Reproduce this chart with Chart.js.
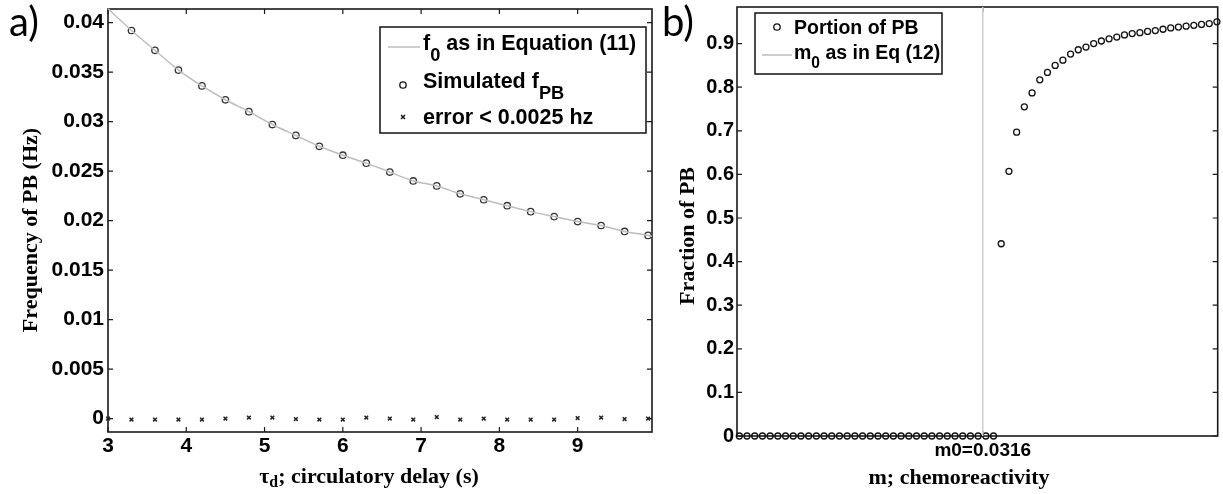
<!DOCTYPE html>
<html>
<head>
<meta charset="utf-8">
<script src="https://cdn.jsdelivr.net/npm/chart.js@4.4.1/dist/chart.umd.min.js"></script>
<style>
  html, body { margin: 0; padding: 0; background: #fff; }
  #wrap { position: relative; width: 1223px; height: 494px; overflow: hidden; }
  #chartA { position: absolute; left: 0; top: 0; }
  #chartB { position: absolute; left: 660px; top: 0; }
</style>
</head>
<body>
<div id="wrap">
  <canvas id="chartA" width="660" height="494"></canvas>
  <canvas id="chartB" width="563" height="494"></canvas>
</div>
<script>
// ---- panel a: frequency of PB vs circulatory delay ----
const tauSim = [3.3, 3.6, 3.9, 4.2, 4.5, 4.8, 5.1, 5.4, 5.7, 6.0, 6.3, 6.6, 6.9, 7.2, 7.5, 7.8, 8.1, 8.4, 8.7, 9.0, 9.3, 9.6, 9.9];
const fSim = [0.0392, 0.0372, 0.0352, 0.0336, 0.0322, 0.0310, 0.0297, 0.0286, 0.0275, 0.0266, 0.0258, 0.0249, 0.0240, 0.0235, 0.0227, 0.0221, 0.0215, 0.0209, 0.0204, 0.0199, 0.0195, 0.0189, 0.0185];
const tauLine = [3.0, 3.3, 3.6, 3.9, 4.2, 4.5, 4.8, 5.1, 5.4, 5.7, 6.0, 6.3, 6.6, 6.9, 7.2, 7.5, 7.8, 8.1, 8.4, 8.7, 9.0, 9.3, 9.6, 9.9, 9.95];
const fLine = [0.0414, 0.0392, 0.0372, 0.0352, 0.0336, 0.0322, 0.0310, 0.0297, 0.0286, 0.0275, 0.0266, 0.0258, 0.0249, 0.0240, 0.0235, 0.0227, 0.0221, 0.0215, 0.0209, 0.0204, 0.0199, 0.0195, 0.0189, 0.0185, 0.0184];
const tauErr = [3.0, 3.3, 3.6, 3.9, 4.2, 4.5, 4.8, 5.1, 5.4, 5.7, 6.0, 6.3, 6.6, 6.9, 7.2, 7.5, 7.8, 8.1, 8.4, 8.7, 9.0, 9.3, 9.6, 9.9];
const fErr = [0, -0.0001, -0.0001, -0.0001, -0.0001, 0, 0.0001, 0.0001, -0.00005, -0.0001, -0.0001, 0.0001, 0, -0.0001, 0.00015, -0.0001, 0, -0.0001, -0.0001, -0.0001, 0.00005, 0.0001, -0.00005, 0];
const xTicksA = [3, 4, 5, 6, 7, 8, 9];
const yTicksA = [0, 0.005, 0.01, 0.015, 0.02, 0.025, 0.03, 0.035, 0.04];
const yLabelsA = ['0', '0.005', '0.01', '0.015', '0.02', '0.025', '0.03', '0.035', '0.04'];

// ---- panel b: fraction of PB vs chemoreactivity ----
const mVals = [0, 0.001, 0.002, 0.003, 0.004, 0.005, 0.006, 0.007, 0.008, 0.009,
  0.010, 0.011, 0.012, 0.013, 0.014, 0.015, 0.016, 0.017, 0.018, 0.019,
  0.020, 0.021, 0.022, 0.023, 0.024, 0.025, 0.026, 0.027, 0.028, 0.029,
  0.030, 0.031, 0.032, 0.033, 0.034, 0.035, 0.036, 0.037, 0.038, 0.039,
  0.040, 0.041, 0.042, 0.043, 0.044, 0.045, 0.046, 0.047, 0.048, 0.049,
  0.050, 0.051, 0.052, 0.053, 0.054, 0.055, 0.056, 0.057, 0.058, 0.059,
  0.060, 0.061, 0.062];
const pbFrac = [0, 0, 0, 0, 0, 0, 0, 0, 0, 0,
  0, 0, 0, 0, 0, 0, 0, 0, 0, 0,
  0, 0, 0, 0, 0, 0, 0, 0, 0, 0,
  0, 0, 0, 0, 0.441, 0.607, 0.697, 0.755, 0.787, 0.817,
  0.834, 0.850, 0.862, 0.876, 0.886, 0.892, 0.900, 0.906, 0.911, 0.915,
  0.920, 0.923, 0.925, 0.928, 0.930, 0.933, 0.936, 0.938, 0.940, 0.942,
  0.944, 0.946, 0.950];
const m0 = 0.0316;
const yTicksB = [0, 0.1, 0.2, 0.3, 0.4, 0.5, 0.6, 0.7, 0.8, 0.9];
const yLabelsB = ['0', '0.1', '0.2', '0.3', '0.4', '0.5', '0.6', '0.7', '0.8', '0.9'];

const SANS = '"Liberation Sans", Arial, sans-serif';
const SERIF = '"Liberation Serif", "Times New Roman", serif';
const LINE_GREY = '#bdbdbd';

const pts = (xs, ys) => xs.map((x, i) => ({ x: x, y: ys[i] }));

// text with subscripts: parts = [[text], [text, true], ...]
function richWidth(ctx, parts, f) {
    let w = 0;
    parts.forEach(p => {
        ctx.font = f.weight + ' ' + (p[1] ? f.size * f.subScale : f.size) + 'px ' + f.family;
        w += ctx.measureText(p[0]).width;
    });
    return w;
}

function drawRich(ctx, parts, x, y, f, align) {
    let cx = align === 'center' ? x - richWidth(ctx, parts, f) / 2 : x;
    ctx.textAlign = 'left';
    ctx.textBaseline = f.baseline || 'alphabetic';
    parts.forEach(p => {
        ctx.font = f.weight + ' ' + (p[1] ? f.size * f.subScale : f.size) + 'px ' + f.family;
        ctx.fillText(p[0], cx, p[1] ? y + f.subDy : y);
        cx += ctx.measureText(p[0]).width;
    });
}

function drawMarker(ctx, kind, x, y, w) {
    ctx.beginPath();
    if (kind === 'line') {
        ctx.strokeStyle = LINE_GREY;
        ctx.lineWidth = 1.5;
        ctx.moveTo(x, y);
        ctx.lineTo(x + w, y);
    } else if (kind === 'circle') {
        ctx.strokeStyle = '#111';
        ctx.lineWidth = 1.3;
        ctx.arc(x, y, 3.2, 0, Math.PI * 2);
    } else {
        ctx.strokeStyle = '#111';
        ctx.lineWidth = 1.4;
        ctx.moveTo(x - 2, y - 2); ctx.lineTo(x + 2, y + 2);
        ctx.moveTo(x + 2, y - 2); ctx.lineTo(x - 2, y + 2);
    }
    ctx.stroke();
}

// MATLAB-like box, inward ticks, titles and legend
function framePlugin(cfg) {
    return {
        id: 'frame',
        beforeDatasetsDraw(chart) {
            const { ctx, chartArea: a, scales: { x, y } } = chart;
            ctx.save();
            ctx.strokeStyle = '#1a1a1a';
            ctx.lineWidth = 1.2;
            ctx.beginPath();
            x.ticks.forEach(t => {
                const px = x.getPixelForValue(t.value);
                ctx.moveTo(px, a.bottom); ctx.lineTo(px, a.bottom - cfg.tickLen);
                ctx.moveTo(px, a.top); ctx.lineTo(px, a.top + cfg.tickLen);
            });
            y.ticks.forEach(t => {
                const py = y.getPixelForValue(t.value);
                ctx.moveTo(a.left, py); ctx.lineTo(a.left + cfg.tickLen, py);
                ctx.moveTo(a.right, py); ctx.lineTo(a.right - cfg.tickLen, py);
            });
            ctx.stroke();
            ctx.lineWidth = 1.6;
            ctx.strokeRect(a.left, a.top, a.right - a.left, a.bottom - a.top);
            ctx.restore();
        },
        afterDraw(chart) {
            const ctx = chart.ctx;
            ctx.save();
            ctx.fillStyle = '#000';

            // panel letter
            ctx.font = '400 40px Lato, "Open Sans", sans-serif';
            ctx.textAlign = 'left';
            ctx.textBaseline = 'alphabetic';
            ctx.fillText(cfg.panel.text, cfg.panel.x, cfg.panel.y);

            // axis titles
            const tf = { weight: 'bold', size: 22, family: SERIF, subScale: 0.72, subDy: 4 };
            drawRich(ctx, cfg.xTitle.parts, cfg.xTitle.x, cfg.xTitle.y, tf, 'center');
            ctx.save();
            ctx.translate(cfg.yTitle.x, cfg.yTitle.y);
            ctx.rotate(-Math.PI / 2);
            drawRich(ctx, [[cfg.yTitle.text]], 0, 0, Object.assign({ baseline: 'middle' }, tf), 'center');
            ctx.restore();

            // legend
            const lg = cfg.legend;
            ctx.fillStyle = '#fff';
            ctx.fillRect(lg.box[0], lg.box[1], lg.box[2] - lg.box[0], lg.box[3] - lg.box[1]);
            ctx.strokeStyle = '#111';
            ctx.lineWidth = 1.5;
            ctx.strokeRect(lg.box[0], lg.box[1], lg.box[2] - lg.box[0], lg.box[3] - lg.box[1]);
            lg.items.forEach(it => {
                drawMarker(ctx, it.mark, it.mx, it.my, it.mw || 0);
                ctx.fillStyle = '#000';
                drawRich(ctx, it.parts, lg.textX, it.base, lg.font, 'left');
            });
            ctx.restore();
        }
    };
}

Chart.defaults.font.family = SANS;
Chart.defaults.color = '#000';

function axisOpts(min, max, ticks, labels, font, pad, size, vertical) {
    return {
        type: 'linear',
        min: min,
        max: max,
        afterBuildTicks: s => { s.ticks = ticks.map(v => ({ value: v })); },
        afterFit: s => {
            if (vertical) { s.width = size; s.paddingTop = 0; s.paddingBottom = 0; }
            else { s.height = size; s.paddingLeft = 0; s.paddingRight = 0; }
        },
        grid: { display: false, drawTicks: false },
        border: { display: false },
        ticks: {
            font: font,
            color: '#000',
            padding: pad,
            maxRotation: 0,
            autoSkip: false,
            callback: (v, i) => labels[i]
        }
    };
}

// Panel a
new Chart(document.getElementById('chartA'), {
    type: 'scatter',
    data: {
        datasets: [{
            data: pts(tauLine, fLine),
            showLine: true,
            borderColor: LINE_GREY,
            borderWidth: 1.5,
            pointRadius: 0,
            cubicInterpolationMode: 'monotone',
            clip: false
        }, {
            data: pts(tauSim, fSim),
            pointStyle: 'circle',
            pointRadius: 3.2,
            borderColor: '#333',
            backgroundColor: 'rgba(0,0,0,0)',
            borderWidth: 1.3,
            clip: false
        }, {
            data: pts(tauErr, fErr),
            pointStyle: 'crossRot',
            pointRadius: 2.6,
            borderColor: '#222',
            borderWidth: 1.5,
            clip: false
        }]
    },
    options: {
        responsive: false,
        animation: false,
        events: [],
        devicePixelRatio: 1,
        layout: { padding: { left: 0, top: 9, right: 8, bottom: 0 } },
        scales: {
            x: axisOpts(3, 9.95, xTicksA, xTicksA.map(String), { size: 21, weight: 'bold', family: SANS }, 2, 62, false),
            y: axisOpts(-0.00136, 0.04137, yTicksA, yLabelsA, { size: 21, weight: 'bold', family: SANS }, 4, 108, true)
        },
        plugins: { legend: { display: false }, tooltip: { enabled: false } }
    },
    plugins: [framePlugin({
        tickLen: 5,
        panel: { text: 'a)', x: 9, y: 36 },
        xTitle: { parts: [['\u03c4'], ['d', true], ['; circulatory delay (s)']], x: 369, y: 483 },
        yTitle: { text: 'Frequency of PB (Hz)', x: 31, y: 230 },
        legend: {
            box: [380, 27, 646, 133],
            textX: 423,
            font: { weight: 'bold', size: 21.5, family: SANS, subScale: 0.85, subDy: 11 },
            items: [
                { mark: 'line', mx: 388, my: 47, mw: 32, base: 50, parts: [['f'], ['0', true], [' as in Equation (11)']] },
                { mark: 'circle', mx: 403, my: 85, base: 88, parts: [['Simulated f'], ['PB', true]] },
                { mark: 'cross', mx: 403, my: 117, base: 124, parts: [['error < 0.0025 hz']] }
            ]
        }
    })]
});

// Panel b
new Chart(document.getElementById('chartB'), {
    type: 'scatter',
    data: {
        datasets: [{
            data: [{ x: m0, y: 0 }, { x: m0, y: 0.984 }],
            showLine: true,
            borderColor: '#cccccc',
            borderWidth: 1.5,
            pointRadius: 0
        }, {
            data: pts(mVals, pbFrac),
            pointStyle: 'circle',
            pointRadius: 3,
            borderColor: '#111',
            backgroundColor: 'rgba(0,0,0,0)',
            borderWidth: 1.3,
            clip: false
        }]
    },
    options: {
        responsive: false,
        animation: false,
        events: [],
        devicePixelRatio: 1,
        layout: { padding: { left: 0, top: 7, right: 3, bottom: 0 } },
        scales: {
            x: axisOpts(-0.0003, 0.0621, [m0], ['m0=0.0316'], { size: 19, weight: 'bold', family: SANS }, 3, 58, false),
            y: axisOpts(0, 0.984, yTicksB, yLabelsB, { size: 20, weight: 'bold', family: SANS }, 3, 77, true)
        },
        plugins: { legend: { display: false }, tooltip: { enabled: false } }
    },
    plugins: [framePlugin({
        tickLen: 5,
        panel: { text: 'b)', x: 2, y: 36 },
        xTitle: { parts: [['m; chemoreactivity']], x: 299, y: 484 },
        yTitle: { text: 'Fraction of PB', x: 28, y: 236 },
        legend: {
            box: [95, 13, 282, 74],
            textX: 134,
            font: { weight: 'bold', size: 19.5, family: SANS, subScale: 0.8, subDy: 9 },
            items: [
                { mark: 'circle', mx: 117, my: 27, base: 34, parts: [['Portion of PB']] },
                { mark: 'line', mx: 102, my: 55, mw: 30, base: 59, parts: [['m'], ['0', true], [' as in Eq (12)']] }
            ]
        }
    })]
});
</script>
</body>
</html>
